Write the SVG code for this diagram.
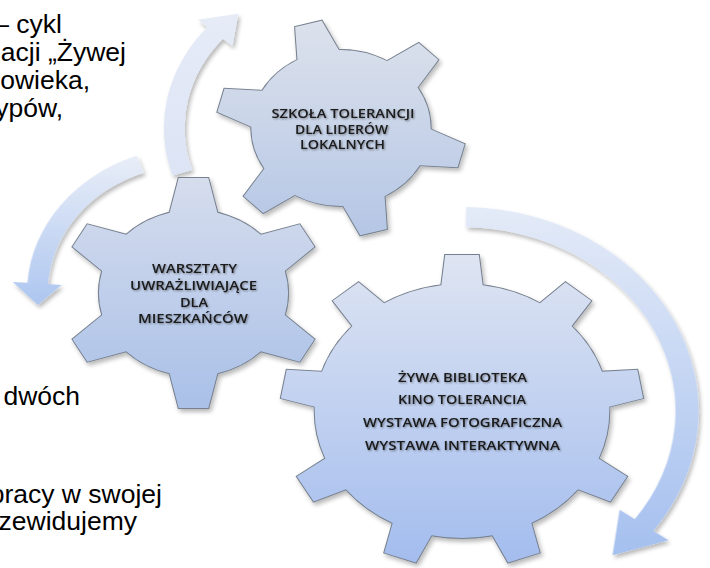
<svg xmlns="http://www.w3.org/2000/svg" width="710" height="568" viewBox="0 0 710 568">
<style>
 .lbl { font-family: "Open Sans", Lato, "Liberation Sans", sans-serif; font-size: 12.2px; font-weight: 600; fill: #1a1a1a; text-anchor: middle; }
 .body { font-family: "Liberation Sans", Arial, sans-serif; font-size: 26.5px; fill: #000; text-anchor: end; }
 .edge { fill: #77818f; stroke: #77818f; stroke-width: 1.8; }
</style>
<defs>
 <polygon id="t1" points="-19,-74 -12,-108 12,-108 19,-74"/>
 <polygon id="t2" points="-21.5,-78 -13,-115 13,-115 21.5,-78"/>
 <polygon id="t3" points="-18,-124 -14.5,-156 14.5,-156 18,-124"/>
 <linearGradient id="g1" x1="0" y1="0" x2="0" y2="1"><stop offset="0" stop-color="#dee3ec"/><stop offset="1" stop-color="#b3c5e5"/></linearGradient>
 <linearGradient id="g2" x1="0" y1="0" x2="0" y2="1"><stop offset="0" stop-color="#d6dded"/><stop offset="1" stop-color="#a9c0e8"/></linearGradient>
 <linearGradient id="g3" x1="0" y1="0" x2="0" y2="1"><stop offset="0" stop-color="#dfe5f2"/><stop offset="1" stop-color="#a2bcee"/></linearGradient>
 <linearGradient id="a1" x1="0" y1="0" x2="0" y2="1"><stop offset="0" stop-color="#e6ebf7"/><stop offset="1" stop-color="#dce4f5"/></linearGradient>
 <linearGradient id="a2" x1="0" y1="0" x2="0" y2="1"><stop offset="0" stop-color="#e9eef8"/><stop offset="1" stop-color="#adc6f0"/></linearGradient>
 <linearGradient id="a3" x1="0" y1="0" x2="0" y2="1"><stop offset="0" stop-color="#e4ebf8"/><stop offset="1" stop-color="#a5c0ef"/></linearGradient>
 <clipPath id="c1">
  <circle r="78" transform="translate(341,128) scale(1.15,1)"/>
  <use href="#t1" transform="translate(341,128) scale(1.15,1) rotate(-15.2)"/>
  <use href="#t1" transform="translate(341,128) scale(1.15,1) rotate(44.8)"/>
  <use href="#t1" transform="translate(341,128) scale(1.15,1) rotate(104.8)"/>
  <use href="#t1" transform="translate(341,128) scale(1.15,1) rotate(164.8)"/>
  <use href="#t1" transform="translate(341,128) scale(1.15,1) rotate(224.8)"/>
  <use href="#t1" transform="translate(341,128) scale(1.15,1) rotate(284.8)"/>
 </clipPath>
 <clipPath id="c2">
  <circle r="83" transform="translate(193.5,293) scale(1.14,1)"/>
  <use href="#t2" transform="translate(193.5,293) scale(1.14,1)"/>
  <use href="#t2" transform="translate(193.5,293) scale(1.14,1) rotate(60)"/>
  <use href="#t2" transform="translate(193.5,293) scale(1.14,1) rotate(120)"/>
  <use href="#t2" transform="translate(193.5,293) scale(1.14,1) rotate(180)"/>
  <use href="#t2" transform="translate(193.5,293) scale(1.14,1) rotate(240)"/>
  <use href="#t2" transform="translate(193.5,293) scale(1.14,1) rotate(300)"/>
 </clipPath>
 <clipPath id="c3">
  <circle r="127" transform="translate(462,411) scale(1.16,1)"/>
  <use href="#t3" transform="translate(462,411) scale(1.16,1)"/>
  <use href="#t3" transform="translate(462,411) scale(1.16,1) rotate(40)"/>
  <use href="#t3" transform="translate(462,411) scale(1.16,1) rotate(80)"/>
  <use href="#t3" transform="translate(462,411) scale(1.16,1) rotate(120)"/>
  <use href="#t3" transform="translate(462,411) scale(1.16,1) rotate(160)"/>
  <use href="#t3" transform="translate(462,411) scale(1.16,1) rotate(200)"/>
  <use href="#t3" transform="translate(462,411) scale(1.16,1) rotate(240)"/>
  <use href="#t3" transform="translate(462,411) scale(1.16,1) rotate(280)"/>
  <use href="#t3" transform="translate(462,411) scale(1.16,1) rotate(320)"/>
 </clipPath>
 <filter id="sh" x="-10%" y="-10%" width="125%" height="125%">
  <feGaussianBlur in="SourceAlpha" stdDeviation="2.2"/>
  <feOffset dx="1.5" dy="2.5"/>
  <feComponentTransfer><feFuncA type="linear" slope="0.28"/></feComponentTransfer>
  <feMerge><feMergeNode/><feMergeNode in="SourceGraphic"/></feMerge>
 </filter>
 <filter id="ts" x="-10%" y="-40%" width="120%" height="180%">
  <feGaussianBlur in="SourceAlpha" stdDeviation="0.9"/>
  <feOffset dx="0.8" dy="1"/>
  <feComponentTransfer><feFuncA type="linear" slope="0.45"/></feComponentTransfer>
  <feMerge><feMergeNode/><feMergeNode in="SourceGraphic"/></feMerge>
 </filter>
</defs>
<rect width="710" height="568" fill="#fff"/>

<g id="slide-text" class="body">
 <text x="62" y="33">– cykl</text>
 <text x="126" y="61">acji „Żywej</text>
 <text x="90" y="89">owieka,</text>
 <text x="63" y="117">ypów,</text>
 <text x="80" y="405">dwóch</text>
 <text x="162" y="503">pracy w swojej</text>
 <text x="137" y="530">zewidujemy</text>
</g>

<g id="connectors" filter="url(#sh)">
 <path id="arrow-top" fill="url(#a1)" transform="translate(341,128) scale(1.15,1)" d="M-146.46,47.59 A154,154 0 0 1 -116.2,-101 L-124.5,-108.2 L-89.3,-114.3 L-94.3,-82 L-102.6,-89.2 A136,136 0 0 0 -129.34,42.03 Z"/>
 <path id="arrow-left" fill="url(#a2)" transform="translate(193.5,293) scale(1.14,1)" d="M-49.94,-137.19 A146,146 0 0 0 -145.6,-10.2 L-158.6,-11.1 L-136.5,11.9 L-115.7,-8.1 L-127.7,-8.9 A128,128 0 0 1 -43.78,-120.28 Z"/>
 <path id="arrow-right" fill="url(#a3)" transform="translate(462,411) scale(1.16,1)" d="M3.56,-203.97 A204,204 0 0 1 165,119.9 L178,129.3 L129.8,144.2 L135.9,98.7 L148.9,108.2 A184,184 0 0 0 3.21,-183.97 Z"/>
</g>

<g id="gear-zywa">
 <g class="edge" filter="url(#sh)" transform="translate(462,411) scale(1.16,1)">
  <circle r="127"/>
  <use href="#t3"/><use href="#t3" transform="rotate(40)"/><use href="#t3" transform="rotate(80)"/>
  <use href="#t3" transform="rotate(120)"/><use href="#t3" transform="rotate(160)"/><use href="#t3" transform="rotate(200)"/>
  <use href="#t3" transform="rotate(240)"/><use href="#t3" transform="rotate(280)"/><use href="#t3" transform="rotate(320)"/>
 </g>
 <rect x="270" y="250" width="390" height="320" fill="url(#g3)" clip-path="url(#c3)"/>
 <g class="lbl" filter="url(#ts)">
  <text x="462.5" y="382" textLength="129" lengthAdjust="spacingAndGlyphs">ŻYWA BIBLIOTEKA</text>
  <text x="462" y="404" textLength="128" lengthAdjust="spacingAndGlyphs">KINO TOLERANCIA</text>
  <text x="462.5" y="427" textLength="199" lengthAdjust="spacingAndGlyphs">WYSTAWA FOTOGRAFICZNA</text>
  <text x="462.5" y="450" textLength="195" lengthAdjust="spacingAndGlyphs">WYSTAWA INTERAKTYWNA</text>
 </g>
</g>

<g id="gear-warsztaty">
 <g class="edge" filter="url(#sh)" transform="translate(193.5,293) scale(1.14,1)">
  <circle r="83"/>
  <use href="#t2"/><use href="#t2" transform="rotate(60)"/><use href="#t2" transform="rotate(120)"/>
  <use href="#t2" transform="rotate(180)"/><use href="#t2" transform="rotate(240)"/><use href="#t2" transform="rotate(300)"/>
 </g>
 <rect x="60" y="175" width="270" height="236" fill="url(#g2)" clip-path="url(#c2)"/>
 <g class="lbl" filter="url(#ts)">
  <text x="194.5" y="273" textLength="85" lengthAdjust="spacingAndGlyphs">WARSZTATY</text>
  <text x="193.5" y="290" textLength="127" lengthAdjust="spacingAndGlyphs">UWRAŻLIWIAJĄCE</text>
  <text x="194" y="307" textLength="28" lengthAdjust="spacingAndGlyphs">DLA</text>
  <text x="193" y="323" textLength="110" lengthAdjust="spacingAndGlyphs">MIESZKAŃCÓW</text>
 </g>
</g>

<g id="gear-szkola">
 <g class="edge" filter="url(#sh)" transform="translate(341,128) scale(1.15,1)">
  <circle r="78"/>
  <use href="#t1" transform="rotate(-15.2)"/><use href="#t1" transform="rotate(44.8)"/><use href="#t1" transform="rotate(104.8)"/>
  <use href="#t1" transform="rotate(164.8)"/><use href="#t1" transform="rotate(224.8)"/><use href="#t1" transform="rotate(284.8)"/>
 </g>
 <rect x="205" y="12" width="270" height="232" fill="url(#g1)" clip-path="url(#c1)"/>
 <g class="lbl" filter="url(#ts)">
  <text x="343" y="118" textLength="143" lengthAdjust="spacingAndGlyphs">SZKOŁA TOLERANCJI</text>
  <text x="341.5" y="134" textLength="93" lengthAdjust="spacingAndGlyphs">DLA LIDERÓW</text>
  <text x="342.5" y="149" textLength="85" lengthAdjust="spacingAndGlyphs">LOKALNYCH</text>
 </g>
</g>
</svg>
